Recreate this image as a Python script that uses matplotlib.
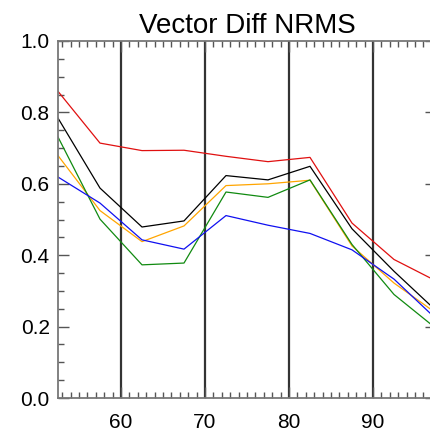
import numpy as np
import matplotlib.pyplot as plt
from matplotlib.ticker import MultipleLocator

# =====================================================
# DATA
# =====================================================

x_vals = [52.5, 57.5, 62.5, 67.5, 72.5, 77.5, 82.5, 87.5, 92.5, 97.5]

red_vals = [0.859, 0.714, 0.693, 0.694, 0.677, 0.662, 0.674, 0.490, 0.388, 0.328]
black_vals = [0.784, 0.588, 0.479, 0.496, 0.623, 0.611, 0.649, 0.474, 0.355, 0.245]
orange_vals = [0.679, 0.525, 0.438, 0.482, 0.595, 0.600, 0.610, 0.426, 0.322, 0.238]
green_vals = [0.731, 0.501, 0.373, 0.378, 0.577, 0.562, 0.611, 0.430, 0.290, 0.195]
blue_vals = [0.619, 0.546, 0.443, 0.417, 0.511, 0.484, 0.461, 0.415, 0.333, 0.222]

series = [
    (red_vals, "#e01010"),
    (black_vals, "black"),
    (orange_vals, "#ffa500"),
    (green_vals, "#108a10"),
    (blue_vals, "#1010f0"),
]

vlines = [60, 70, 80, 90]

# =====================================================
# PLOT
# =====================================================

plt.rcParams["font.family"] = ["Liberation Sans", "DejaVu Sans"]

fig = plt.figure(figsize=(4.30, 4.33), dpi=100)
# axes run past the right edge of the figure, as in the cropped reference
ax = fig.add_axes([58 / 430, 35 / 433, 378 / 430, 357 / 433])

for vals, col in series:
    ax.plot(x_vals, vals, color=col, lw=0.9)

for v in vlines:
    ax.axvline(v, color="#333333", lw=1.6, zorder=0)

ax.set_xlim(52.5, 97.5)
ax.set_ylim(0.0, 1.0)

ax.xaxis.set_major_locator(MultipleLocator(10))
ax.xaxis.set_minor_locator(MultipleLocator(1))
ax.yaxis.set_major_locator(MultipleLocator(0.2))
ax.yaxis.set_minor_locator(MultipleLocator(0.05))
ax.yaxis.set_major_formatter(plt.FormatStrFormatter("%.1f"))

ax.tick_params(which="both", direction="in", top=True, right=True,
               color="#555555", labelsize=15)
ax.tick_params(which="major", length=8, width=1)
ax.tick_params(which="minor", length=4, width=1)
ax.tick_params(axis="x", pad=11)
ax.tick_params(axis="y", pad=6)

for sp in ax.spines.values():
    sp.set_color("#777777")
    sp.set_linewidth(1.3)

ax.set_title("Vector Diff NRMS", fontsize=20, pad=6)

fig.savefig("out.png", dpi=100)
